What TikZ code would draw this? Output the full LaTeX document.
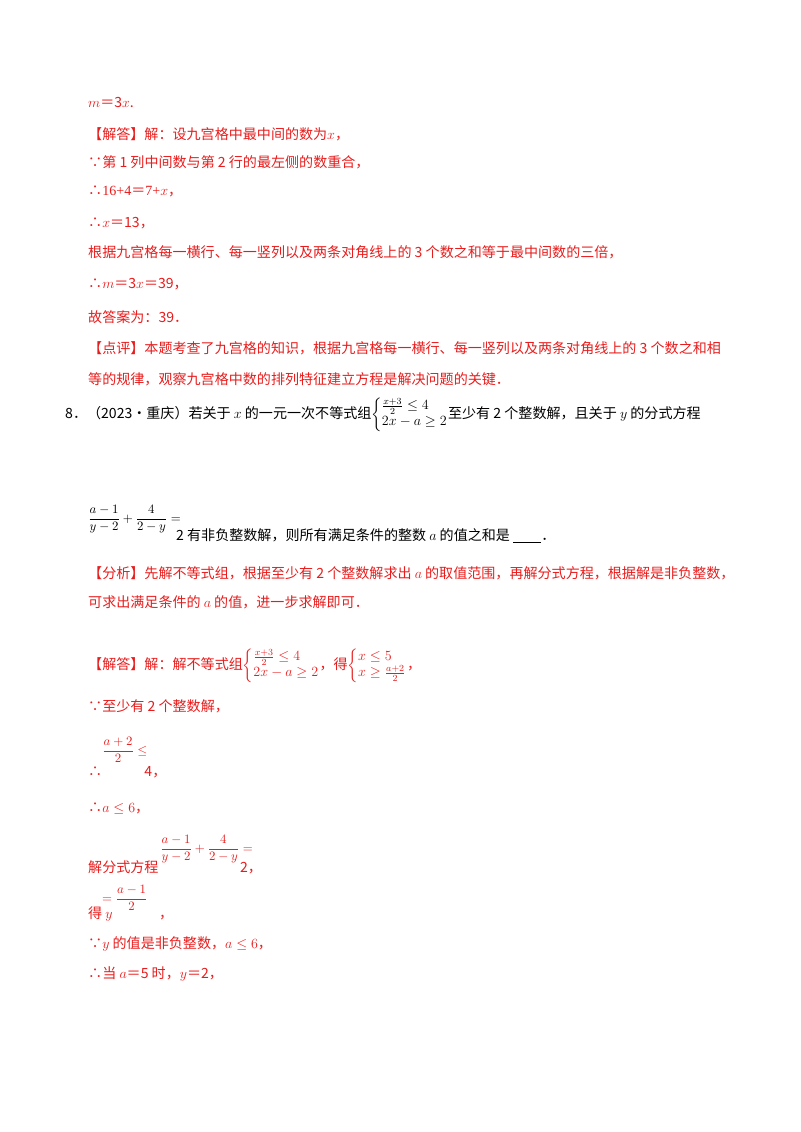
\documentclass[tikz,border=0pt]{standalone}
\usepackage{amsmath}
\usepackage{fontspec}
\setmainfont{Liberation Serif}
\newfontfamily\cn{Noto Sans CJK SC}
\usetikzlibrary{positioning}
\definecolor{ansred}{RGB}{232,28,28}
\newcommand{\sys}[2]{\left\{\renewcommand{\arraystretch}{0.9}\begin{array}{@{}l@{}}#1\\#2\end{array}\right.}
\tikzset{
  line/.style={anchor=base west,inner sep=0pt,font=\fontsize{12}{15}\selectfont},
  redline/.style={line,text=ansred},
  small/.style={anchor=base west,inner sep=0pt,font=\fontsize{11}{13}\selectfont}
}

\begin{document}
\begin{tikzpicture}[x=0.03cm,y=-0.03cm]
    \useasboundingbox (0,0) rectangle (800,1132);

    % previous answer
    \node[redline] (l1) at (88,108) {$m$\cn{}＝3$x$.};
    \node[redline] (l2) at (88,140) {\cn{}【解答】解：设九宫格中最中间的数为$x$，};
    \node[redline] (l3) at (88,168) {\cn{}∵第 1 列中间数与第 2 行的最左侧的数重合，};
    \node[redline] (l4) at (88,196) {\cn{}∴\rmfamily 16+4\cn{}＝\rmfamily 7+$x$\cn{}，};
    \node[redline] (l5) at (88,228) {\cn{}∴$x$＝13，};
    \node[redline] (l6) at (88,258) {\cn{}根据九宫格每一横行、每一竖列以及两条对角线上的 3 个数之和等于最中间数的三倍，};
    \node[redline] (l7) at (88,288) {\cn{}∴$m$＝3$x$＝39，};
    \node[redline] (l8) at (88,322) {\cn{}故答案为：39．};
    \node[redline] (l9) at (88,353) {\cn{}【点评】本题考查了九宫格的知识，根据九宫格每一横行、每一竖列以及两条对角线上的 3 个数之和相};
    \node[redline] (l10) at (88,384) {\cn{}等的规律，观察九宫格中数的排列特征建立方程是解决问题的关键．};

    % question 8
    \node[line] (q1) at (65,418) {\cn{}8．（2023•重庆）若关于 $x$ 的一元一次不等式组$\sys{\frac{x+3}{2}\le 4}{2x-a\ge 2}$至少有 2 个整数解，且关于 $y$ 的分式方程};
    \node[small] (q2a) at (88,522) {$\dfrac{a-1}{y-2}+\dfrac{4}{2-y}=$};
    \node[line] (q2) at (176,540) {\cn{}2 有非负整数解，则所有满足条件的整数 $a$ 的值之和是 \underline{\hspace{2em}}．};

    % analysis
    \node[redline] (a1) at (88,578) {\cn{}【分析】先解不等式组，根据至少有 2 个整数解求出 $a$ 的取值范围，再解分式方程，根据解是非负整数，};
    \node[redline] (a2) at (88,607) {\cn{}可求出满足条件的 $a$ 的值，进一步求解即可．};

    % solution
    \node[redline] (s1) at (88,669) {\cn{}【解答】解：解不等式组$\sys{\frac{x+3}{2}\le 4}{2x-a\ge 2}$，得$\sys{x\le 5}{x\ge\frac{a+2}{2}}$，};
    \node[redline] (s2) at (88,711) {\cn{}∵至少有 2 个整数解，};
    \node[redline,small] (s3a) at (102,754) {$\dfrac{a+2}{2}\le$};
    \node[redline] (s3) at (88,776) {\cn{}∴\hspace{3em}4，};
    \node[redline] (s4) at (88,812) {\cn{}∴$a\le 6$，};
    \node[redline,small] (s5a) at (160,852) {$\dfrac{a-1}{y-2}+\dfrac{4}{2-y}=$};
    \node[redline] (s5) at (88,872) {\cn{}解分式方程\hspace{5.8em}2，};
    \node[redline,small] (s6a) at (102,902) {$=\dfrac{a-1}{2}$};
    \node[redline] (s6) at (88,918) {\cn{}得 $y$\hspace{3.3em}，};
    \node[redline] (s7) at (88,948) {\cn{}∵$y$ 的值是非负整数，$a\le 6$，};
    \node[redline] (s8) at (88,978) {\cn{}∴当 $a$＝5 时，$y$＝2，};
\end{tikzpicture}
\end{document}
